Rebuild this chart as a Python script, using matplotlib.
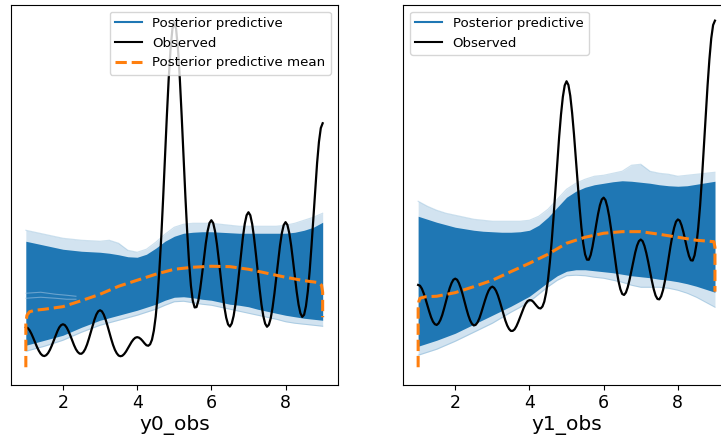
import numpy as np
import matplotlib
matplotlib.use("Agg")
import matplotlib.pyplot as plt
from matplotlib.lines import Line2D

# Evaluation grids (value axis of the KDEs)
obs_x = np.round(np.linspace(1.0, 9.0, 161), 3)
band_x = np.round(np.linspace(1.0, 9.0, 33), 3)

# Densities are stored in thousandths
# --- y0_obs ---
y0_observed = [
    40.0, 39.2, 37.0, 33.5, 29.3, 24.8, 20.3, 16.5, 13.5, 11.7,
    11.2, 12.1, 14.2, 17.5, 21.7, 26.5, 31.5, 36.0, 39.8, 42.1,
    43.0, 42.2, 39.8, 36.1, 31.6, 26.7, 22.0, 18.0, 15.2, 13.6,
    13.5, 15.1, 18.2, 22.8, 28.6, 35.1, 41.6, 47.7, 52.7, 55.9,
    57.0, 55.9, 52.7, 47.7, 41.6, 34.9, 28.4, 22.4, 17.5, 14.0,
    11.7, 11.0, 11.5, 13.2, 15.7, 18.8, 22.1, 25.3, 27.8, 29.5,
    30.1, 29.6, 28.2, 26.2, 23.9, 22.0, 21.5, 23.0, 27.6, 36.6,
    50.6, 71.0, 97.6, 130.4, 168.6, 209.7, 250.7, 288.2, 318.4, 338.1,
    345.0, 338.2, 318.6, 288.6, 251.4, 211.0, 170.9, 134.4, 104.1, 81.4,
    66.4, 59.8, 60.2, 66.8, 78.5, 93.0, 108.8, 123.8, 136.3, 144.3,
    147.0, 144.2, 135.9, 123.2, 107.6, 90.9, 74.7, 60.4, 49.6, 42.9,
    40.7, 43.8, 51.3, 63.1, 78.4, 95.7, 113.4, 129.9, 143.3, 152.0,
    155.0, 152.0, 143.3, 129.9, 113.4, 95.7, 78.4, 63.0, 51.2, 43.6,
    40.5, 42.5, 49.0, 59.7, 73.7, 89.7, 106.2, 121.6, 134.1, 142.2,
    145.1, 142.3, 134.2, 121.9, 106.8, 90.7, 75.5, 62.7, 54.0, 50.4,
    52.5, 61.2, 75.9, 96.4, 121.7, 149.7, 178.0, 204.2, 225.4, 239.2,
    244.0,
]
y0_pp_outer_top = [137, 135, 133, 131, 129, 128, 127, 126.5, 126, 127, 124, 117, 115,
                   118, 125, 133, 140, 143, 144, 144, 144, 143, 142, 141, 141, 141,
                   141, 141, 142, 144, 147, 150, 154]
y0_pp_core_top = [126, 124, 122, 120, 118, 117, 116, 115.5, 115, 114, 112.5, 110.5, 110,
                  113, 119, 126, 131, 134, 135, 135.5, 135.5, 135, 134.5, 134, 134, 134,
                  134, 134, 134, 135, 137, 140, 145]
y0_pp_core_bot = [22, 24.5, 27, 29.5, 32, 36, 40, 43.5, 47, 49.5, 52, 54.5, 57,
                  60, 63, 67, 70, 70.5, 69.5, 68, 67, 65, 63, 62, 60.5, 58,
                  56, 54, 52, 50.5, 49, 48, 47]
y0_pp_outer_bot = [16, 18.5, 21, 24, 27, 31, 35, 38.5, 42, 44.5, 47, 49.5, 52,
                   55, 58, 62, 65.5, 66, 64.5, 63, 62, 60, 58, 56, 54, 52,
                   50, 48, 45.5, 44, 43, 42, 41]
y0_mean_x = [1.0, 1.0, 1.03, 1.1, 1.25, 1.5, 2.0, 2.5, 3.0, 3.5, 4.0, 4.5, 5.0,
             5.5, 6.0, 6.5, 7.0, 7.5, 8.0, 8.5, 8.9, 8.97, 9.0, 9.0]
y0_mean = [0, 44, 52, 55.5, 57, 58, 60.6, 66.6, 73, 81, 87, 93, 98,
           100, 101, 100.6, 98, 94, 90, 86.6, 84.6, 82, 75, 50]
y0_streak_x = [1.0, 1.4, 1.8, 2.1, 2.35]
y0_streak = [[74, 75, 73, 72, 71], [69, 70, 69, 68, 68]]

# --- y1_obs ---
y1_observed = [
    82.3, 81.5, 78.6, 73.9, 68.2, 61.9, 55.6, 49.9, 45.6, 43.1,
    42.3, 43.9, 47.3, 52.3, 58.8, 65.8, 72.8, 79.1, 84.1, 87.5,
    88.6, 87.5, 84.1, 79.0, 72.8, 65.7, 58.7, 52.2, 47.0, 43.5,
    41.8, 42.4, 44.8, 48.9, 54.4, 60.5, 66.6, 72.2, 76.7, 79.5,
    80.6, 79.3, 76.4, 71.8, 66.0, 59.5, 52.9, 46.8, 41.8, 38.3,
    36.3, 36.4, 37.9, 41.1, 45.4, 50.3, 55.3, 59.8, 63.6, 66.2,
    67.1, 67.0, 65.6, 63.4, 61.1, 59.2, 58.8, 60.7, 65.6, 74.5,
    87.4, 104.9, 126.0, 150.5, 177.3, 204.4, 230.2, 252.6, 270.3, 281.8,
    286.0, 282.3, 271.5, 254.4, 233.1, 208.9, 184.0, 160.3, 139.8, 123.8,
    112.8, 107.6, 107.5, 112.3, 120.7, 131.3, 142.8, 153.4, 162.1, 167.8,
    169.6, 167.1, 160.3, 150.7, 138.2, 124.4, 110.3, 97.1, 86.1, 78.1,
    73.3, 72.3, 74.7, 80.1, 87.8, 96.8, 106.1, 114.6, 121.6, 126.1,
    127.7, 126.1, 121.3, 114.2, 105.5, 95.8, 86.4, 78.0, 71.7, 68.3,
    67.9, 71.0, 77.1, 86.0, 96.9, 108.8, 120.6, 131.1, 139.5, 145.6,
    147.8, 146.6, 141.9, 135.1, 126.9, 118.4, 111.3, 107.0, 106.7, 111.9,
    122.6, 139.7, 161.9, 189.1, 219.6, 251.0, 281.3, 307.8, 328.9, 342.2,
    346.6,
]
y1_pp_outer_top = [166, 161, 157, 154, 152, 150, 148, 147, 146, 146, 146, 146, 147,
                   151, 158, 168, 178, 184, 188, 191, 192, 194, 196, 202, 203, 196,
                   194, 193, 191, 192, 193, 194, 195]
y1_pp_core_top = [151, 148, 145, 142.5, 140, 138.5, 137, 136, 135.5, 135, 135, 135.5, 137,
                  142, 150, 160, 170, 176, 180, 182.5, 184, 185.5, 186.5, 186, 185, 184,
                  182.5, 181.5, 181, 181.5, 183, 184.5, 186]
y1_pp_core_bot = [21, 24, 27, 30.5, 34, 38.5, 43, 47.5, 52, 56.5, 61, 66, 71,
                  78, 85, 91.5, 96, 97.5, 97.5, 96.5, 95.5, 94.5, 93, 91.5, 90.5, 89.5,
                  88, 87, 85.5, 83.5, 81, 78, 75]
y1_pp_outer_bot = [12, 15, 18, 22, 26, 30.5, 35, 39.5, 44, 49.5, 55, 60, 65.5,
                   73, 80.5, 87, 91.5, 92, 91.5, 90, 89, 87, 85, 82, 80, 80,
                   80, 79, 77, 74, 70, 65, 60]
y1_mean_x = [1.0, 1.0, 1.02, 1.05, 1.2, 1.5, 2.0, 2.5, 3.0, 3.5, 4.0, 4.5, 5.0,
             5.5, 6.0, 6.5, 7.0, 7.5, 8.0, 8.5, 8.97, 9.0, 9.0]
y1_mean = [0, 58, 66, 69, 70.5, 71, 74.6, 80.6, 87, 95.6, 104, 113, 124,
           130, 134, 135.6, 135.6, 133, 130, 127, 125.6, 120, 75.6]

C_PP = "#1f77b4"
C_MEAN = "#ff7f0e"
SCALE = 1000.0

fig = plt.figure(figsize=(7.21, 4.42), dpi=100)
ax0 = fig.add_axes([11 / 721, 57.5 / 442, 326.5 / 721, 379.5 / 442])
ax1 = fig.add_axes([403.3 / 721, 57.5 / 442, 326.5 / 721, 379.5 / 442])


def draw_panel(ax, observed, o_top, c_top, c_bot, o_bot, mx, mean, label,
               with_mean_legend, loc, streaks=None):
    bx = band_x
    s = lambda v: np.asarray(v, dtype=float) / SCALE
    ax.fill_between(bx, s(o_bot), s(o_top), color=C_PP, alpha=0.2, lw=0)
    ax.plot(bx, s(o_top), color=C_PP, alpha=0.22, lw=0.8)
    ax.plot(bx, s(o_bot), color=C_PP, alpha=0.22, lw=0.8)
    ax.fill_between(bx, s(c_bot), s(c_top), color=C_PP, lw=0)
    if streaks is not None:
        sx, sy = streaks
        for row in sy:
            ax.plot(sx, s(row), color="#a8c7e3", alpha=0.55, lw=0.8)
    ax.plot(obs_x, s(observed), color="black", lw=1.6)
    ax.plot(mx, s(mean), color=C_MEAN, lw=2.2, ls="--")

    ax.set_xlim(0.6, 9.4)
    ax.set_ylim(-17.25 / SCALE, 362.25 / SCALE)
    ax.set_xticks([2, 4, 6, 8])
    ax.set_yticks([])
    ax.tick_params(axis="x", labelsize=12.5)
    ax.set_xlabel(label, fontsize=14.5, labelpad=2)

    handles = [Line2D([], [], color=C_PP, lw=1.5),
               Line2D([], [], color="black", lw=1.5)]
    labels = ["Posterior predictive", "Observed"]
    if with_mean_legend:
        handles.append(Line2D([], [], color=C_MEAN, lw=2.2, ls="--"))
        labels.append("Posterior predictive mean")
    ax.legend(handles, labels, loc=loc, fontsize=9.6)


draw_panel(ax0, y0_observed, y0_pp_outer_top, y0_pp_core_top, y0_pp_core_bot,
           y0_pp_outer_bot, y0_mean_x, y0_mean, "y0_obs", True, "upper right",
           streaks=(y0_streak_x, y0_streak))
draw_panel(ax1, y1_observed, y1_pp_outer_top, y1_pp_core_top, y1_pp_core_bot,
           y1_pp_outer_bot, y1_mean_x, y1_mean, "y1_obs", False, "upper left")

fig.savefig("out.png", dpi=100)
